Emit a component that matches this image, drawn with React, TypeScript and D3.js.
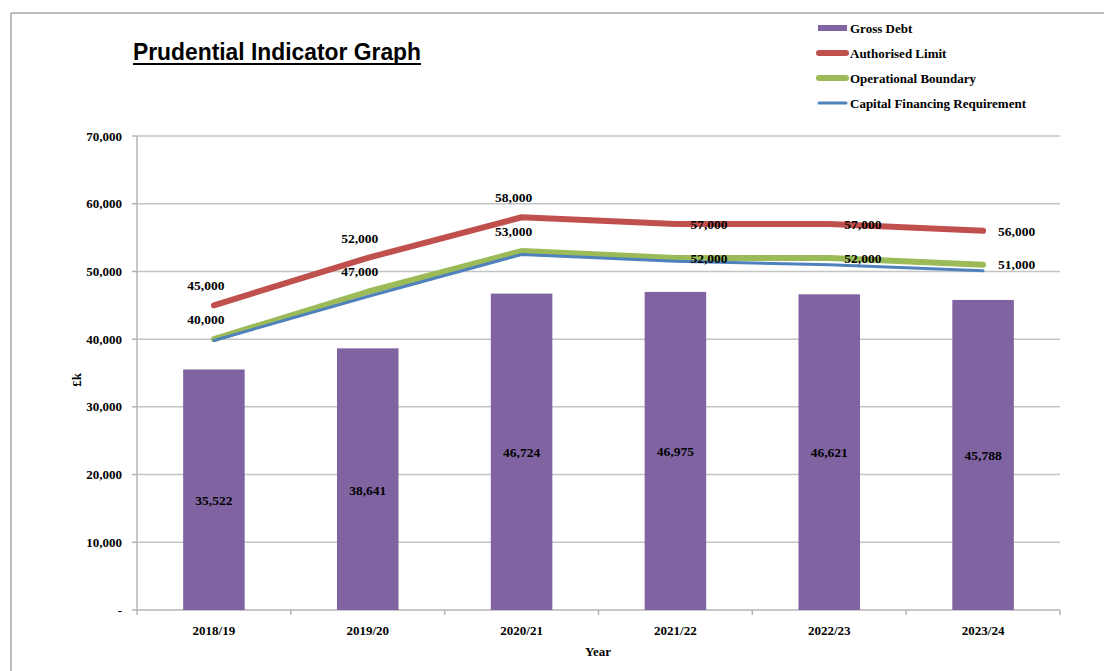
import React from "react";
import * as d3 from "d3";

const years = ["2018/19", "2019/20", "2020/21", "2021/22", "2022/23", "2023/24"];
const grossDebt = [35522, 38641, 46724, 46975, 46621, 45788];
const authorisedLimit = [45000, 52000, 58000, 57000, 57000, 56000];
const operationalBoundary = [40000, 47000, 53000, 52000, 52000, 51000];
const capitalFinancingRequirement = [39800, 46300, 52500, 51500, 51000, 50100];
const yTicks = [0, 10000, 20000, 30000, 40000, 50000, 60000, 70000];

const legendItems = [
  { name: "Gross Debt", color: "#8064A2", kind: "bar" },
  { name: "Authorised Limit", color: "#C0504D", kind: "line", w: 6 },
  { name: "Operational Boundary", color: "#9BBB59", kind: "line", w: 6 },
  { name: "Capital Financing Requirement", color: "#4F81BD", kind: "line", w: 3 },
];

const W = 1104;
const H = 671;
const serif = "'Liberation Serif', 'Times New Roman', serif";

export default function App() {
  const left = 137, right = 1060, top = 136, bottom = 610;
  const x = d3.scaleBand<string>().domain(years).range([left, right]).paddingInner(0.6).paddingOuter(0.3);
  const y = d3.scaleLinear().domain([0, 70000]).range([bottom, top]);
  const cx = (d: string) => (x(d) as number) + x.bandwidth() / 2;
  const fmt = d3.format(",");
  const step = x.step();

  const lineGen = d3.line<number>().x((_, i) => cx(years[i])).y((v) => y(v));

  const series = [
    { vals: authorisedLimit, color: "#C0504D", w: 6, labels: true },
    { vals: operationalBoundary, color: "#9BBB59", w: 6, labels: true },
    { vals: capitalFinancingRequirement, color: "#4F81BD", w: 3, labels: false },
  ];

  return (
    <svg width={W} height={H} style={{ position: "absolute", left: 0, top: 0, background: "#fff" }}>
      {/* frame */}
      <line x1={11} y1={13} x2={W} y2={13} stroke="#a6a6a6" strokeWidth={1.5} />
      <line x1={11} y1={13} x2={11} y2={H} stroke="#a6a6a6" strokeWidth={1.5} />

      {/* title */}
      <text x={133} y={60} fontFamily="'Liberation Sans Narrow', 'Arial Narrow', 'Liberation Sans', Arial, sans-serif"
        fontWeight="bold" fontSize={23} textLength={288} lengthAdjust="spacingAndGlyphs" fill="#000">
        Prudential Indicator Graph
      </text>
      <line x1={133} y1={64} x2={421} y2={64} stroke="#000" strokeWidth={2} />

      {/* gridlines */}
      {yTicks.filter((t) => t > 0).map((t) => (
        <line key={t} x1={left} x2={right} y1={y(t)} y2={y(t)} stroke="#c4c4c4" strokeWidth={1.5} />
      ))}

      {/* axes */}
      <line x1={left} x2={left} y1={top} y2={bottom} stroke="#b4b4b4" strokeWidth={1.5} />
      <line x1={left} x2={right} y1={bottom} y2={bottom} stroke="#b4b4b4" strokeWidth={1.5} />
      {yTicks.map((t) => (
        <g key={t}>
          <line x1={left - 5} x2={left} y1={y(t)} y2={y(t)} stroke="#b4b4b4" strokeWidth={1.5} />
          <text x={122} y={y(t)} dy="0.35em" textAnchor="end" fontFamily={serif} fontWeight="bold" fontSize={13} fill="#000">
            {t === 0 ? "-" : fmt(t)}
          </text>
        </g>
      ))}
      {d3.range(years.length + 1).map((i) => (
        <line key={i} x1={left + i * step} x2={left + i * step} y1={bottom} y2={bottom + 5} stroke="#b4b4b4" strokeWidth={1.5} />
      ))}
      {years.map((yr) => (
        <text key={yr} x={cx(yr)} y={630} dy="0.35em" textAnchor="middle" fontFamily={serif} fontWeight="bold" fontSize={13} fill="#000">
          {yr}
        </text>
      ))}
      <text x={598} y={651} dy="0.35em" textAnchor="middle" fontFamily={serif} fontWeight="bold" fontSize={13}>Year</text>
      <text transform={`translate(76,380) rotate(-90)`} textAnchor="middle" dy="0.35em" fontFamily={serif} fontWeight="bold" fontSize={13}>£k</text>

      {/* bars */}
      {grossDebt.map((v, i) => (
        <g key={i}>
          <rect x={x(years[i])} y={y(v)} width={x.bandwidth()} height={bottom - y(v)} fill="#8064A2" />
          <text x={cx(years[i])} y={(y(v) + bottom) / 2 + (i < 2 ? 11 : 0)} dy="0.35em" textAnchor="middle" fontFamily={serif} fontWeight="bold" fontSize={13.5} fill="#000">
            {fmt(v)}
          </text>
        </g>
      ))}

      {/* lines */}
      {series.map((s, k) => (
        <path key={k} d={lineGen(s.vals) || ""} fill="none" stroke={s.color} strokeWidth={s.w} strokeLinecap="round" strokeLinejoin="round" />
      ))}

      {/* line labels */}
      {series.filter((s) => s.labels).map((s, k) =>
        s.vals.map((v, i) => {
          const px = cx(years[i]);
          const py = y(v);
          return i < 3 ? (
            <text key={`${k}-${i}`} x={px - 8} y={py - 20} dy="0.35em" textAnchor="middle" fontFamily={serif} fontWeight="bold" fontSize={13.5} fill="#000">
              {fmt(v)}
            </text>
          ) : (
            <text key={`${k}-${i}`} x={px + 15} y={py} dy="0.35em" textAnchor="start" fontFamily={serif} fontWeight="bold" fontSize={13.5} fill="#000">
              {fmt(v)}
            </text>
          );
        })
      )}

      {/* legend */}
      {legendItems.map((it, i) => {
        const ly = 28 + i * 25;
        return (
          <g key={it.name}>
            {it.kind === "bar" ? (
              <rect x={818} y={ly - 3} width={29} height={6} fill={it.color} />
            ) : (
              <line x1={819} x2={846} y1={ly} y2={ly} stroke={it.color} strokeWidth={it.w} strokeLinecap="round" />
            )}
            <text x={850} y={ly} dy="0.35em" fontFamily={serif} fontWeight="bold" fontSize={13} fill="#000">
              {it.name}
            </text>
          </g>
        );
      })}
    </svg>
  );
}
